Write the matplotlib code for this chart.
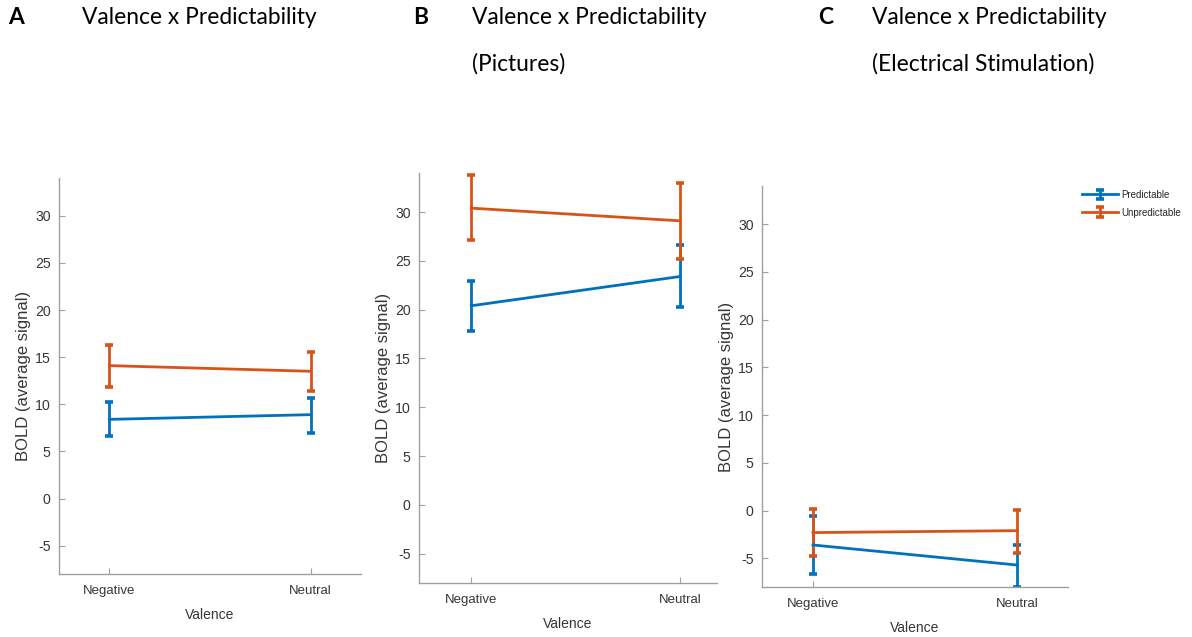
import matplotlib
matplotlib.use("Agg")
import matplotlib.pyplot as plt
import numpy as np

categories = ["Negative", "Neutral"]
series = ["Predictable", "Unpredictable"]

# Panel A
a_pred = [8.4, 8.9]
a_pred_lo = [6.6, 7.0]
a_pred_hi = [10.2, 10.7]
a_unp = [14.1, 13.5]
a_unp_lo = [11.8, 11.4]
a_unp_hi = [16.3, 15.5]

# Panel B (Pictures)
b_pred = [20.4, 23.4]
b_pred_lo = [17.8, 20.3]
b_pred_hi = [22.9, 26.6]
b_unp = [30.4, 29.1]
b_unp_lo = [27.1, 25.2]
b_unp_hi = [33.8, 33.0]

# Panel C (Electrical Stimulation)
c_pred = [-3.6, -5.7]
c_pred_lo = [-6.6, -8.0]
c_pred_hi = [-0.6, -3.6]
c_unp = [-2.3, -2.1]
c_unp_lo = [-4.8, -4.4]
c_unp_hi = [0.2, 0.1]

yticks = [-5, 0, 5, 10, 15, 20, 25, 30]

BLUE = "#0072BD"
ORANGE = "#D95319"
AXC = "#a0a0a0"
TXT = "#363636"
AF = "Liberation Sans"

W, H = 1192, 637
fig = plt.figure(figsize=(W / 100, H / 100), dpi=100)


def box(l, r, t, b):
    return [l / W, (H - b) / H, (r - l) / W, (b - t) / H]


def panel(rect, xlim, data, show_legend=False):
    ax = fig.add_axes(rect)
    x = np.arange(1, len(categories) + 1)
    handles = []
    for (m, lo, hi), col, name in zip(data, [BLUE, ORANGE], series):
        m = np.array(m); lo = np.array(lo); hi = np.array(hi)
        h = ax.errorbar(x, m, yerr=[m - lo, hi - m], color=col, lw=2.0,
                        capsize=2.7, capthick=2.6, elinewidth=2.0, label=name)
        handles.append(h)
    ax.set_xlim(*xlim)
    ax.set_ylim(-8, 34)
    ax.set_xticks(x)
    ax.set_xticklabels(categories, family=AF, fontsize=9.5)
    ax.set_yticks(yticks)
    ax.set_yticklabels([str(t) for t in yticks], family=AF, fontsize=10.2)
    for s in ["top", "right"]:
        ax.spines[s].set_visible(False)
    for s in ["left", "bottom"]:
        ax.spines[s].set_color(AXC)
        ax.spines[s].set_linewidth(1.0)
    ax.tick_params(direction="in", length=4, width=0.8, color=AXC,
                   labelcolor=TXT)
    ax.tick_params(axis="y", pad=6)
    ax.tick_params(axis="x", pad=8)
    ax.set_xlabel("Valence", color=TXT, fontsize=10, family=AF, labelpad=7.5)
    ax.set_ylabel("BOLD (average signal)", color=TXT, fontsize=12, family=AF,
                  labelpad=3)
    if show_legend:
        leg = fig.legend(handles=handles, loc="upper left",
                         bbox_to_anchor=(1078 / W, 1 - 186 / H),
                         bbox_transform=fig.transFigure, frameon=False,
                         prop={"family": AF, "size": 7}, handlelength=3.7,
                         handletextpad=0.4, labelspacing=0.8, borderaxespad=0)
        for t in leg.get_texts():
            t.set_color("#262626")
    return ax


panel(box(59, 361, 178, 574), (0.75, 2.25),
      [(a_pred, a_pred_lo, a_pred_hi), (a_unp, a_unp_lo, a_unp_hi)])
panel(box(419, 717, 173, 583), (0.75, 2.176),
      [(b_pred, b_pred_lo, b_pred_hi), (b_unp, b_unp_lo, b_unp_hi)])
panel(box(762, 1068, 186, 587), (0.75, 2.25),
      [(c_pred, c_pred_lo, c_pred_hi), (c_unp, c_unp_lo, c_unp_hi)],
      show_legend=True)

TF = "Lato"
TS = 16.4
def ftext(px, py, s, bold=False):
    fig.text(px / W, 1 - py / H, s, fontsize=TS, family=TF,
             fontweight="bold" if bold else "normal", va="center", ha="left",
             color="black")

ftext(8, 18, "A", bold=True)
ftext(82, 18, "Valence x Predictability")
ftext(413, 18, "B", bold=True)
ftext(472, 18, "Valence x Predictability")
ftext(472, 64, "(Pictures)")
ftext(818, 18, "C", bold=True)
ftext(872, 18, "Valence x Predictability")
ftext(872, 64, "(Electrical Stimulation)")

fig.savefig("out.png", dpi=100)
